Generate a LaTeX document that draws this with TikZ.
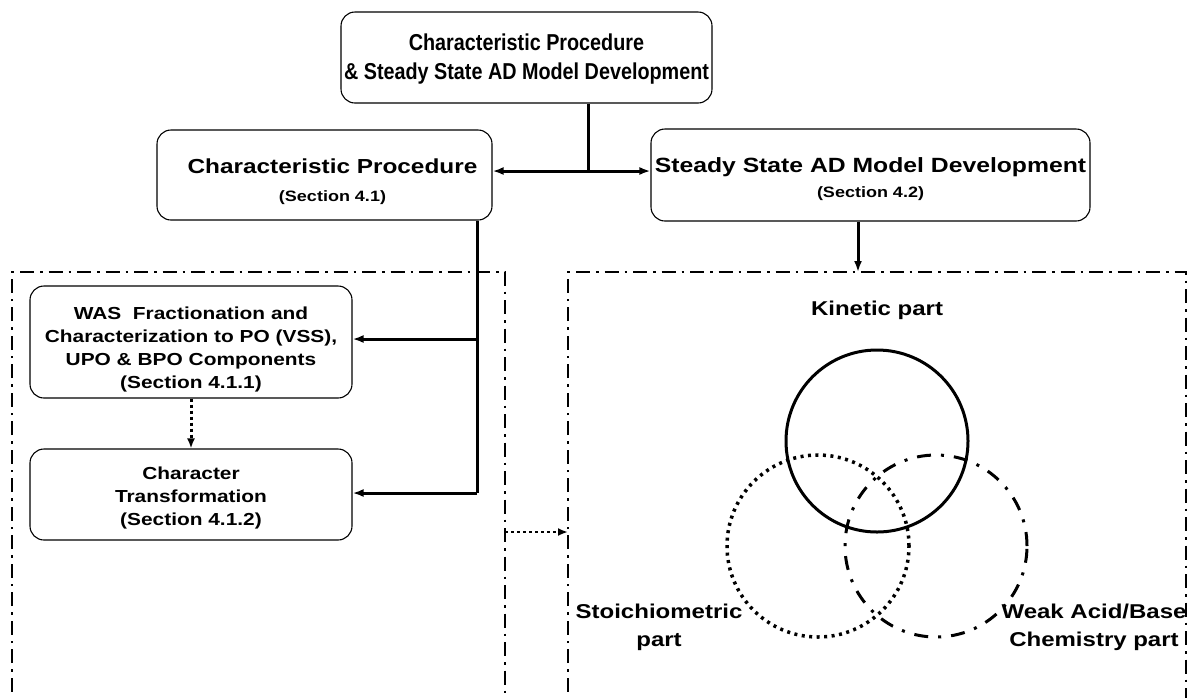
\documentclass[tikz,border=0pt]{standalone}
\usepackage{fontspec}
\setmainfont{Liberation Sans}
\newfontfamily\wf[FakeStretch=1.2]{Liberation Sans}
\newfontfamily\nf[FakeStretch=0.86]{Liberation Sans}
\usetikzlibrary{arrows.meta}
\tikzset{
  box/.style={draw, line width=1.1pt, rounded corners=14pt, inner sep=0pt},
  txt/.style={align=center, inner sep=0pt},
  conn/.style={line width=3pt, -{Latex[length=11pt,width=8pt]}},
  bar/.style={line width=3pt},
  dotarrow/.style={line width=3pt, dash pattern=on 3pt off 3pt, -{Latex[length=10pt,width=8pt]}},
  frame/.style={line width=2pt, dash pattern=on 14pt off 6pt on 2.5pt off 6pt},
  lbl/.style={align=center, inner sep=0pt, font=\wf\bfseries\fontsize{20}{28}\selectfont},
  ring/.style={circle, inner sep=0pt, minimum size=182pt, line width=3pt}
}
\begin{document}
\begin{tikzpicture}[x=1pt,y=-1pt]
\useasboundingbox (0,0) rectangle (1198,697);
\clip (0,0) rectangle (1198,697);

% top box
\node[box, minimum width=371pt, minimum height=91pt] (top) at (526.5,57.5) {};
\node[txt, font=\nf\bfseries\fontsize{23}{29}\selectfont] (topt) at ([yshift=-2pt]top.center)
  {Characteristic Procedure\\ \& Steady State AD Model Development};

% second level
\node[box, minimum width=335pt, minimum height=90pt] (cp) at (324.5,175) {};
\node[txt, font=\wf\bfseries\fontsize{20.3}{28}\selectfont] (cpt) at ([xshift=8pt,yshift=-7pt]cp.center)
  {Characteristic Procedure\\ {\fontsize{15}{18}\selectfont (Section 4.1)}};
\node[box, minimum width=439pt, minimum height=92pt] (ss) at (870.5,175) {};
\node[txt, font=\wf\bfseries\fontsize{20.6}{25}\selectfont] (sst) at ([yshift=-4pt]ss.center)
  {Steady State AD Model Development\\ {\fontsize{15}{18}\selectfont (Section 4.2)}};

% frames
\coordinate (lf1) at (12,272);  \coordinate (lf2) at (505,272);
\coordinate (rf1) at (568,272); \coordinate (rf2) at (1186,272);
\draw[frame] (12,720) -- (lf1) -- (lf2) -- (505,720);
\draw[frame] (568,720) -- (rf1) -- (rf2) -- (1186,720);

% lower left boxes
\node[box, minimum width=322pt, minimum height=112pt] (was) at (191,342) {};
\node[txt, font=\wf\bfseries\fontsize{17.4}{23}\selectfont] (wast) at ([yshift=-7pt]was.center)
  {WAS\ \ Fractionation and\\ Characterization to PO (VSS),\\ UPO \& BPO Components\\ (Section 4.1.1)};
\node[box, minimum width=322pt, minimum height=91pt] (ct) at (191,494.5) {};
\node[txt, font=\wf\bfseries\fontsize{17.4}{23}\selectfont] (ctt) at ([yshift=-3pt]ct.center)
  {Character\\ Transformation\\ (Section 4.1.2)};

% connectors top
\coordinate (j) at (588,171);
\draw[bar] (top.south -| j) -- (j);
\draw[conn] (j) -- (j -| cp.east);
\draw[conn] (j) -- (j -| ss.west);

% left trunk
\coordinate (k1) at (477,339);
\coordinate (k2) at (477,493);
\draw[bar] (cp.south -| k1) -- (k2);
\draw[conn] (k1) -- (k1 -| was.east);
\draw[conn] (k2) -- (k2 -| ct.east);
\draw[dotarrow] (was.south) -- (ct.north);

% frame link
\coordinate (la) at (505,532);
\coordinate (ra) at (568,532);
\draw[dotarrow, line width=2.4pt] (la) -- (ra);

% right down
\coordinate (rd) at (858,272);
\draw[conn] (ss.south -| rd) -- (rd);

% circles
\node[ring, draw] (kin) at (877,441) {};
\node[ring, draw, line width=3.5pt, dash pattern=on 3pt off 4.5pt] (sto) at (818,546) {};
\node[ring, draw, dash pattern=on 14pt off 10pt on 3pt off 10pt] (wab) at (936,546) {};

% labels
\node[lbl] (kl) at (877,310) {Kinetic part};
\node[lbl] (sl) at (659,627) {Stoichiometric\\part};
\node[lbl] (wl) at (1094,627) {Weak Acid/Base\\Chemistry part};
\end{tikzpicture}
\end{document}
